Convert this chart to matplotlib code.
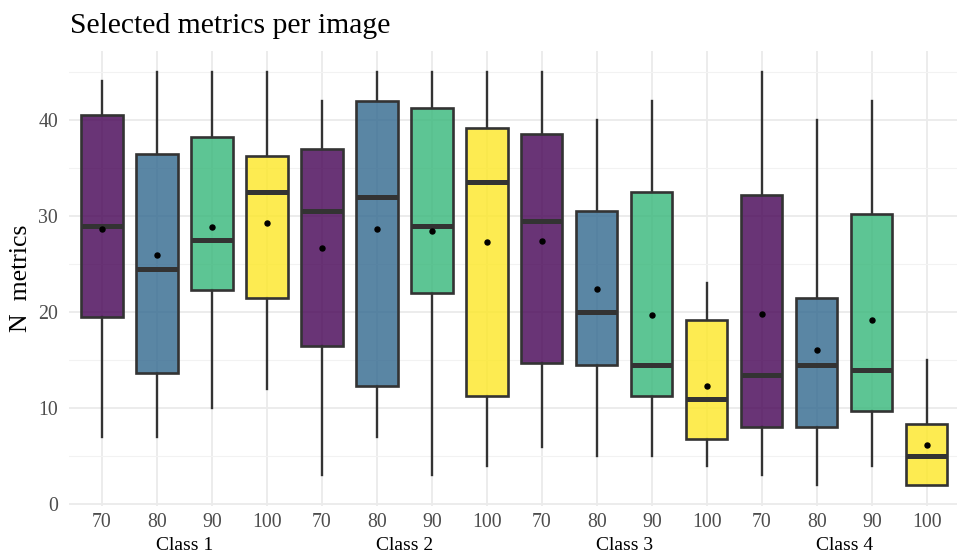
import matplotlib
matplotlib.use("Agg")
import matplotlib.pyplot as plt
import matplotlib.transforms as mtransforms
from matplotlib.colors import to_rgba

plt.rcParams['font.family'] = ['Liberation Serif', 'DejaVu Serif']

classes = ["Class 1", "Class 2", "Class 3", "Class 4"]
thresholds = ["70", "80", "90", "100"]
whis_lo = [7, 7, 10, 12,   3, 7, 3, 4,    6, 5, 5, 4,      3, 2, 4, 2]
q1 =      [19.5, 13.7, 22.3, 21.5,  16.5, 12.3, 22.0, 11.3,  14.7, 14.5, 11.3, 6.8,  8.0, 8.0, 9.7, 2.0]
median =  [29.0, 24.5, 27.5, 32.5,  30.5, 32.0, 29.0, 33.5,  29.5, 20.0, 14.5, 11.0,  13.5, 14.5, 14.0, 5.0]
q3 =      [40.5, 36.5, 38.2, 36.2,  37.0, 42.0, 41.2, 39.2,  38.5, 30.5, 32.5, 19.2,  32.2, 21.5, 30.2, 8.3]
whis_hi = [44, 45, 45, 45,  42, 45, 45, 45,  45, 40, 42, 23,  45, 40, 42, 15]
means =   [28.6, 25.9, 28.9, 29.3,  26.7, 28.6, 28.4, 27.3,  27.4, 22.4, 19.7, 12.3,  19.8, 16.1, 19.2, 6.2]

palette = ["#440154", "#31688E", "#35B779", "#FDE725"]

fig = plt.figure(figsize=(9.57, 5.56), dpi=100)
ax = fig.add_axes([0.0721, 0.0905, 0.9279, 0.8174])

stats = []
for i in range(len(q1)):
    stats.append(dict(whislo=whis_lo[i], q1=q1[i], med=median[i], q3=q3[i],
                      whishi=whis_hi[i], mean=means[i], fliers=[]))
pos = list(range(1, len(stats) + 1))
edge = "#333333"
bp = ax.bxp(stats, positions=pos, widths=0.75, patch_artist=True, showcaps=False,
            showmeans=True, showfliers=False,
            boxprops=dict(edgecolor=edge, linewidth=1.9),
            whiskerprops=dict(color=edge, linewidth=1.7),
            medianprops=dict(color=edge, linewidth=3.6),
            meanprops=dict(marker="o", markerfacecolor="black", markeredgecolor="black", markersize=3.6))
for i, b in enumerate(bp["boxes"]):
    b.set_facecolor(to_rgba(palette[i % 4], 0.8))
    b.set_zorder(3)
for m in bp["medians"]:
    m.set_zorder(4)
for m in bp["means"]:
    m.set_zorder(5)

ax.set_xlim(0.4, 16.55)
ax.set_ylim(-0.15, 47.15)
ax.set_yticks([0, 10, 20, 30, 40])
ax.set_yticks([5, 15, 25, 35, 45], minor=True)
ax.set_xticks(pos)
ax.set_xticklabels(thresholds * 4)
ax.grid(True, which="major", color="#EBEBEB", lw=1.3, zorder=0)
ax.grid(True, which="minor", axis="y", color="#F2F2F2", lw=0.8, zorder=0)
ax.set_axisbelow(True)
for s in ax.spines.values():
    s.set_visible(False)
ax.tick_params(axis="both", which="both", length=0, labelsize=14.3, labelcolor="#4D4D4D")
ax.tick_params(axis="x", pad=5)
ax.tick_params(axis="y", pad=8)

ax.set_ylabel("N  metrics", fontsize=18.5, color="black")
ax.yaxis.set_label_coords(-0.042, 0.5)

trans = mtransforms.blended_transform_factory(ax.transData, fig.transFigure)
for k, c in enumerate(classes):
    ax.text(4 * k + 2.5, 0.018, c, transform=trans, ha="center", va="center",
            fontsize=14, color="black")

fig.text(0.073, 0.9406, "Selected metrics per image", fontsize=21.3, va="baseline", ha="left")

fig.savefig("out.png", dpi=100)
